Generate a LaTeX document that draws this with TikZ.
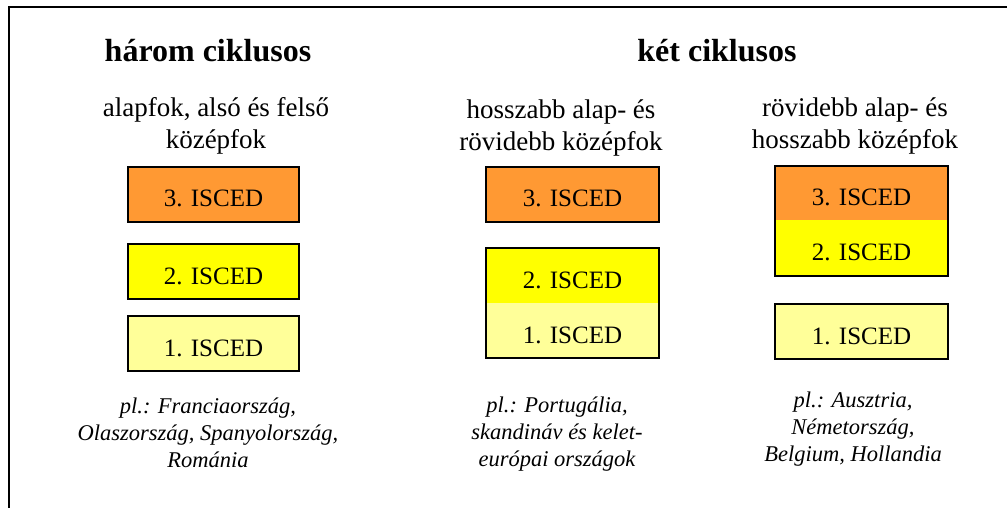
\documentclass[tikz,border=0pt]{standalone}
\usepackage{fontspec}
\setmainfont{Liberation Serif}
\definecolor{iscedorange}{HTML}{FF9933}
\definecolor{iscedyellow}{HTML}{FFFF00}
\definecolor{iscedlight}{HTML}{FFFF99}
\begin{document}
\begin{tikzpicture}[x=1pt,y=-1pt,
  hdr/.style={font=\fontsize{32}{36}\selectfont\bfseries, anchor=base, inner sep=0pt},
  lbl/.style={font=\fontsize{27}{32}\selectfont, align=center, anchor=base, inner sep=0pt},
  ex/.style={font=\fontsize{22.5}{27}\selectfont\itshape, align=center, anchor=base, inner sep=0pt},
  isced/.style={font=\fontsize{25}{28}\selectfont, minimum height=55pt, inner sep=0pt, text height=25pt, text depth=0pt, anchor=north},
  boxed/.style={isced, draw=black, line width=2pt},
  plain/.style={isced, draw=none},
  frame/.style={line width=2pt}]
\useasboundingbox (0,0) rectangle (1007,508);
\coordinate (fa) at (9,508);
\coordinate (fb) at (9,7);
\coordinate (fc) at (1007,7);
\draw[frame] (fa) -- (fb) -- (fc);

% headers
\node[hdr] (h1) at (208,62) {három ciklusos};
\node[hdr] (h2) at (717,62) {két ciklusos};

% column labels (anchor = baseline of last line)
\node[lbl] (l1) at (216,149) {alapfok, alsó és felső\\középfok};
\node[lbl] (l2) at (561,150) {hosszabb alap- és\\rövidebb középfok};
\node[lbl] (l3) at (855,149) {rövidebb alap- és\\hosszabb középfok};

% left column
\node[boxed, fill=iscedorange, minimum width=171pt] (a3) at (213.5,166) {3. ISCED};
\node[boxed, fill=iscedyellow, minimum width=171pt] (a2) at (213.5,243) {2. ISCED};
\node[boxed, fill=iscedlight, minimum width=171pt] (a1) at (213.5,315) {1. ISCED};

% middle column
\node[boxed, fill=iscedorange, minimum width=173pt] (b3) at (572.5,166) {3. ISCED};
\node[plain, fill=iscedyellow, minimum width=173pt] (b2) at (572.5,248) {2. ISCED};
\node[plain, fill=iscedlight, minimum width=173pt] (b1) at (572.5,303) {1. ISCED};
\draw[line width=2pt] (b2.north west) rectangle (b1.south east);

% right column
\node[plain, fill=iscedorange, minimum width=173pt, minimum height=54pt] (c3) at (861.5,166) {3. ISCED};
\node[plain, fill=iscedyellow, minimum width=173pt, minimum height=56pt] (c2) at (861.5,220) {2. ISCED};
\draw[line width=2pt] (c3.north west) rectangle (c2.south east);
\node[boxed, fill=iscedlight, minimum width=173pt] (c1) at (861.5,303) {1. ISCED};

% examples (anchor = baseline of last line)
\node[ex] (e1) at (208,467) {pl.: Franciaország,\\Olaszország, Spanyolország,\\Románia};
\node[ex] (e2) at (557,466) {pl.: Portugália,\\skandináv és kelet-\\európai országok};
\node[ex] (e3) at (853,461) {pl.: Ausztria,\\Németország,\\Belgium, Hollandia};
\end{tikzpicture}
\end{document}
